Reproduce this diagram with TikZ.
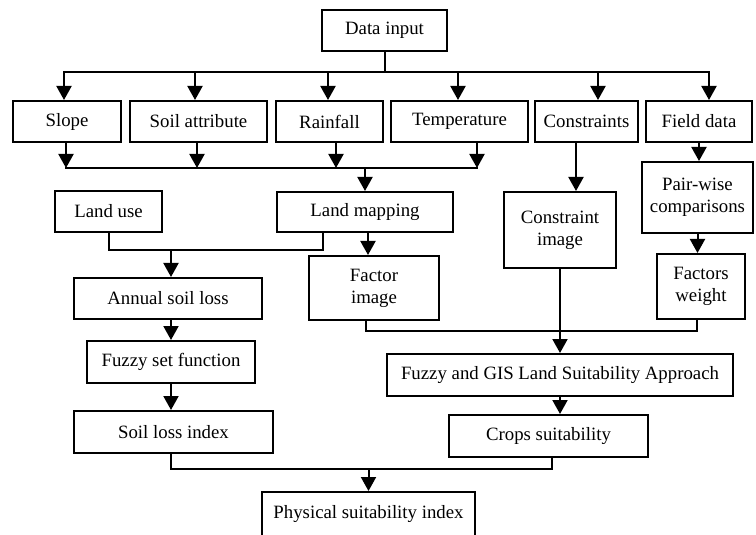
\documentclass[tikz,border=0pt]{standalone}
\usepackage{fontspec}
\setmainfont{Liberation Serif}
\usetikzlibrary{arrows.meta}
\tikzset{
  blk/.style={draw,line width=1pt,inner sep=1pt,align=center,font=\fontsize{9.4}{11}\selectfont},
  arr/.style={-{Triangle[width=7.5pt,length=7pt]}},
}
\begin{document}
\begin{tikzpicture}[x=.5pt,y=-.5pt,line width=1pt,line cap=rect]
  \useasboundingbox (0,0) rectangle (756,535);
  % boxes
  \node[blk,minimum width=62.5pt,minimum height=20.5pt] (input) at (384.5,30.5) {Data input};
  \node[blk,minimum width=54pt,minimum height=20.5pt] (slope) at (67,121.5) {Slope};
  \node[blk,minimum width=68.5pt,minimum height=20.5pt] (soil) at (198.5,121.5) {Soil attribute};
  \node[blk,minimum width=53.5pt,minimum height=20.5pt] (rain) at (329.5,121.5) {Rainfall};
  \node[blk,minimum width=68.5pt,minimum height=20.5pt] (temp) at (459.5,121.5) {Temperature};
  \node[blk,minimum width=51.5pt,minimum height=20.5pt] (constr) at (586.5,121.5) {Constraints};
  \node[blk,minimum width=53pt,minimum height=20.5pt] (field) at (699,121.5) {Field data};
  \node[blk,minimum width=53.5pt,minimum height=20.5pt] (landuse) at (108.5,211.5) {Land use};
  \node[blk,minimum width=88pt,minimum height=20pt] (landmap) at (365,212) {Land mapping};
  \node[blk,minimum width=56pt,minimum height=38pt] (cimage) at (560,230) {Constraint\\image};
  \node[blk,minimum width=55.5pt,minimum height=35.5pt] (pair) at (697.5,197.5) {Pair-wise\\comparisons};
  \node[blk,minimum width=44pt,minimum height=32.5pt] (fweight) at (701,286.5) {Factors\\weight};
  \node[blk,minimum width=65pt,minimum height=32pt] (fimage) at (374,288) {Factor\\image};
  \node[blk,minimum width=94pt,minimum height=20.5pt] (annual) at (168,298.5) {Annual soil loss};
  \node[blk,minimum width=84pt,minimum height=21pt] (fuzzy) at (171,362) {Fuzzy set function};
  \node[blk,minimum width=99.5pt,minimum height=21pt] (sli) at (173.5,432) {Soil loss index};
  \node[blk,minimum width=173pt,minimum height=21pt] (gis) at (560,375) {Fuzzy and GIS Land Suitability Approach};
  \node[blk,minimum width=99.5pt,minimum height=21pt] (crops) at (548.5,436) {Crops suitability};
  \node[blk,minimum width=106.5pt,minimum height=22pt] (phys) at (368.5,514) {Physical suitability index};
  % data input to the six sources
  \coordinate (bus1) at (0,72);
  \draw (input.south) -- (input.south |- bus1);
  \draw ([xshift=-1.5pt]slope.north |- bus1) -- ([xshift=5pt]field.north |- bus1);
  \foreach \n/\d in {slope/-1.5,soil/-1.75,rain/-.75,temp/-.75,constr/5.75,field/5}
    \draw[arr] ([xshift=\d pt]\n.north |- bus1) -- ([xshift=\d pt]\n.north);
  % factors to land mapping
  \coordinate (bus2) at (0,168);
  \foreach \n/\d in {slope/-.5,soil/-.75,rain/3.25,temp/8.75}
    \draw[arr] ([xshift=\d pt]\n.south) -- ([xshift=\d pt]\n.south |- bus2);
  \draw ([xshift=-.5pt]slope.south |- bus2) -- ([xshift=8.75pt]temp.south |- bus2);
  \draw[arr] (landmap.north |- bus2) -- (landmap.north);
  \draw[arr] ([xshift=-5.25pt]constr.south) -- ([xshift=-5.25pt]constr.south |- cimage.north);
  \draw[arr] (field.south) -- (field.south |- pair.north);
  \draw[arr] (pair.south) -- (pair.south |- fweight.north);
  % soil loss branch
  \coordinate (bus3) at (0,250);
  \draw (landuse.south) -- (landuse.south |- bus3) -- ([xshift=-21pt]landmap.south |- bus3) -- ([xshift=-21pt]landmap.south);
  \draw[arr] ([xshift=1.5pt]annual.north |- bus3) -- ([xshift=1.5pt]annual.north);
  \draw[arr] ([xshift=1.5pt]landmap.south) -- ([xshift=1.5pt]landmap.south |- fimage.north);
  \draw[arr] (fuzzy.north |- annual.south) -- (fuzzy.north);
  \draw[arr] (fuzzy.south) -- (fuzzy.south |- sli.north);
  % suitability branch
  \coordinate (bus4) at (0,331);
  \draw ([xshift=-4pt]fimage.south) -- ([xshift=-4pt]fimage.south |- bus4) -- ([xshift=-2pt]fweight.south |- bus4) -- ([xshift=-2pt]fweight.south);
  \draw[arr] (cimage.south) -- (cimage.south |- gis.north);
  \draw[arr] (gis.south) -- (gis.south |- crops.north);
  % final index
  \coordinate (bus5) at (0,469);
  \draw ([xshift=-1.25pt]sli.south) -- ([xshift=-1.25pt]sli.south |- bus5) -- ([xshift=1.75pt]crops.south |- bus5) -- ([xshift=1.75pt]crops.south);
  \draw[arr] (phys.north |- bus5) -- (phys.north);
\end{tikzpicture}
\end{document}
